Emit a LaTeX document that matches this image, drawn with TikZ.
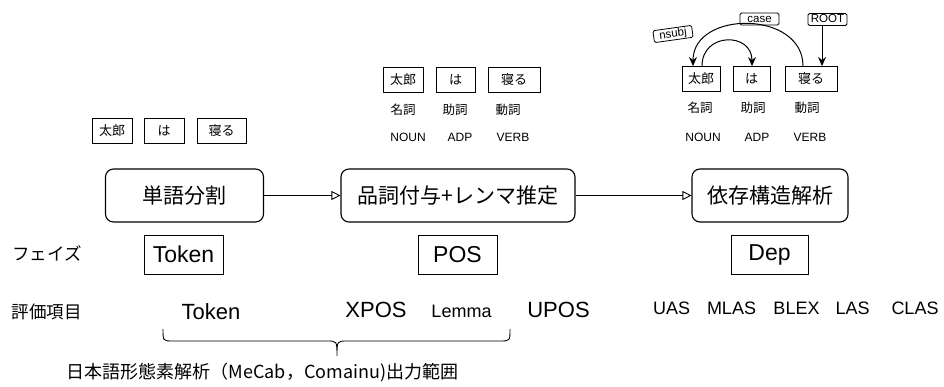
\documentclass[tikz,border=0pt]{standalone}
\usepackage{fontspec}
\setmainfont{Liberation Sans}
\newfontfamily\jp{Noto Sans CJK JP}
\usetikzlibrary{arrows.meta}
\tikzset{
  tok/.style={draw, line width=0.9pt, inner sep=0pt, minimum height=25pt, font=\jp\fontsize{13}{15}\selectfont},
  tag/.style={inner sep=0pt, font=\jp\fontsize{12.5}{14}\selectfont},
  upos/.style={inner sep=0pt, font=\fontsize{12}{14}\selectfont},
  stage/.style={draw, line width=1.1pt, rounded corners=8pt, minimum height=53pt, inner sep=0pt, font=\jp\fontsize{21}{24}\selectfont},
  phase/.style={draw, line width=0.9pt, inner sep=0pt, minimum height=39pt, font=\fontsize{23}{26}\selectfont},
  side/.style={inner sep=0pt, font=\jp\fontsize{17.5}{20}\selectfont},
  metric/.style={inner sep=0pt, font=\fontsize{22}{26}\selectfont},
  dmetric/.style={inner sep=0pt, font=\fontsize{18}{22}\selectfont},
  rel/.style={draw, line width=0.8pt, rounded corners=1.5pt, inner xsep=1.5pt, inner ysep=1pt, text height=8.5pt, text depth=1.5pt, font=\fontsize{11.5}{12}\selectfont},
  flow/.style={line width=0.9pt, -{Triangle[open, length=9pt, width=9pt]}},
  deparrow/.style={line width=1pt, -{Stealth[length=9pt, width=8pt]}}
}
\begin{document}
\begin{tikzpicture}[x=1pt, y=-1pt]
\useasboundingbox (0,0) rectangle (944,387);

% left tokens
\node[tok, minimum width=40pt] (l1) at (112,131) {太郎};
\node[tok, minimum width=40pt] (l2) at (164,131) {は};
\node[tok, minimum width=49pt] (l3) at (221.5,131) {寝る};

% middle tokens
\node[tok, minimum width=40pt] (m1) at (403,79.5) {太郎};
\node[tok, minimum width=39pt] (m2) at (455.5,79.5) {は};
\node[tok, minimum width=52pt] (m3) at (514,79.5) {寝る};
\node[tag] (mp1) at (403,110) {名詞};
\node[tag] (mp2) at (455,110) {助詞};
\node[tag] (mp3) at (508,110) {動詞};
\node[upos] (mu1) at (408,137) {NOUN};
\node[upos] (mu2) at (460,137) {ADP};
\node[upos] (mu3) at (513,137) {VERB};

% right tokens
\node[tok, minimum width=38pt] (r1) at (701,79) {太郎};
\node[tok, minimum width=37pt] (r2) at (751.5,79) {は};
\node[tok, minimum width=52pt] (r3) at (811,79) {寝る};
\node[tag] (rp1) at (700,108) {名詞};
\node[tag] (rp2) at (753,108) {助詞};
\node[tag] (rp3) at (807,108) {動詞};
\node[upos] (ru1) at (703,137) {NOUN};
\node[upos] (ru2) at (757,137) {ADP};
\node[upos] (ru3) at (810,137) {VERB};

% dependency arcs
\node[rel, minimum width=39pt] (case) at (759.5,19) {case};
\node[rel, rotate=8, minimum width=39pt] (nsubj) at (673,34) {nsubj};
\node[rel, minimum width=39pt] (root) at (827.5,19.5) {ROOT};
\draw[deparrow] ([xshift=-8pt]r3.north) .. controls +(0,-56) and +(0,-56) .. ([xshift=-8pt]r1.north);
\draw[deparrow] ([xshift=1pt]r1.north) .. controls +(0,-34) and +(0,-34) .. ([xshift=0.5pt]r2.north);
\draw[deparrow] ([xshift=-5.5pt]root.south) -- ([xshift=11pt]r3.north);

% stages
\node[stage, minimum width=158pt] (seg) at (184.5,195.5) {単語分割};
\node[stage, minimum width=234pt] (pos) at (458,195.5) {品詞付与+レンマ推定};
\node[stage, minimum width=156pt] (dep) at (770,195.5) {依存構造解析};
\draw[flow] (seg.east) -- (pos.west);
\draw[flow] (pos.east) -- (dep.west);

% phases
\node[side] (phlabel) at (47,253) {フェイズ};
\node[phase, minimum width=79pt] (phtok) at (183.5,254.5) {Token};
\node[phase, minimum width=79pt] (phpos) at (457.5,255) {POS};
\node[phase, minimum width=77pt] (phdep) at (769.5,254.5) {Dep};

% metrics
\node[side] (evlabel) at (47,312) {評価項目};
\node[metric] (etok) at (211,312) {Token};
\node[metric] (expos) at (376,310) {XPOS};
\node[metric, font=\fontsize{18}{22}\selectfont] (elem) at (461.5,311) {Lemma};
\node[metric] (eupos) at (558.5,310) {UPOS};
\node[dmetric] (euas) at (671.5,308) {UAS};
\node[dmetric] (emlas) at (731.5,308) {MLAS};
\node[dmetric] (eblex) at (796.5,308) {BLEX};
\node[dmetric] (elas) at (852.5,308) {LAS};
\node[dmetric] (eclas) at (915,308) {CLAS};

% brace
\draw[line width=0.9pt] (163,329) .. controls (163,341) .. (173,341) -- (327,341)
  .. controls (337,341) .. (337,356) .. controls (337,341) .. (347,341) -- (500,341)
  .. controls (510,341) .. (510,329);
\node[inner sep=0pt, font=\jp\fontsize{18}{21}\selectfont] (range) at (262.5,372.5) {日本語形態素解析（MeCab，Comainu)出力範囲};
\end{tikzpicture}
\end{document}
